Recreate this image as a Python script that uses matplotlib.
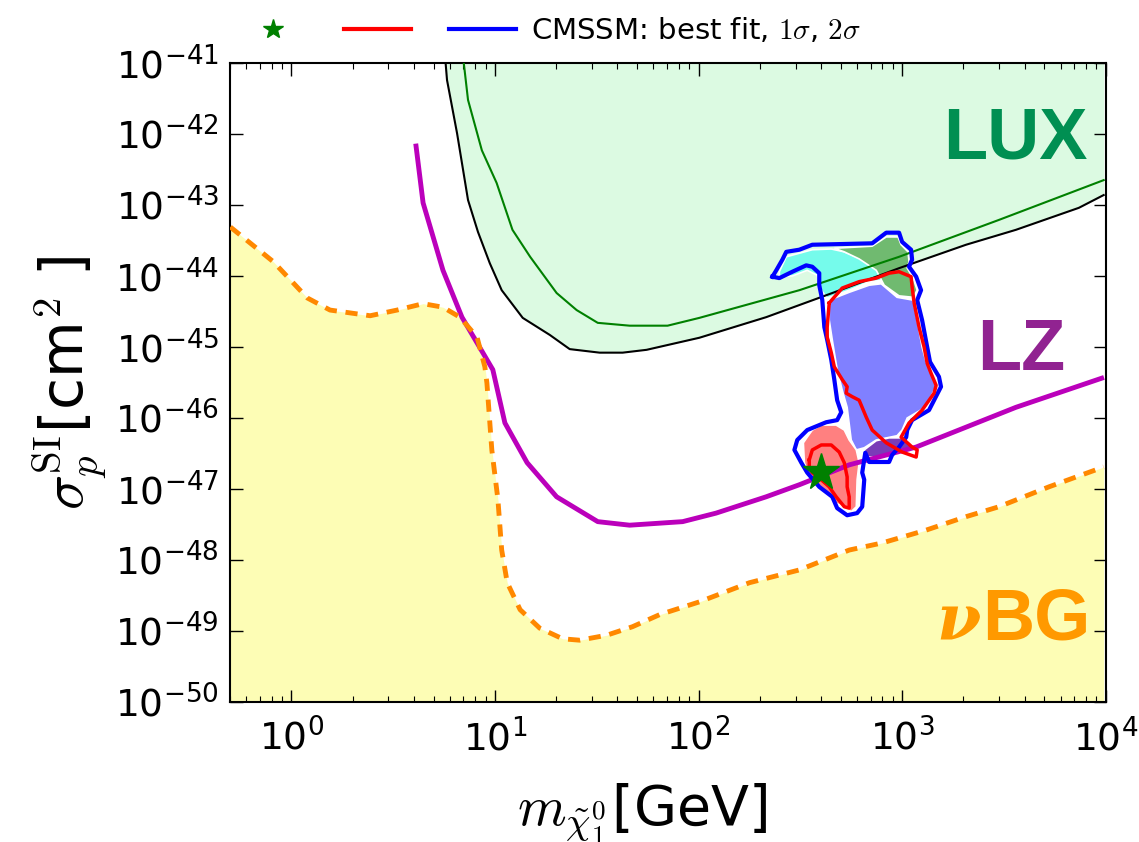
import numpy as np
import matplotlib
matplotlib.use("Agg")
import matplotlib.pyplot as plt
from matplotlib.lines import Line2D

plt.rcParams['mathtext.fontset'] = 'cm'
plt.rcParams['axes.unicode_minus'] = False

# LUX limit (mass in GeV, log10 sigma in cm^2)
lux_m = [5.69, 5.82, 6.52, 7.38, 8.26, 9.44, 10.8, 13.7, 18.6, 23.3, 32.7, 42.4, 55.6, 101, 215, 454, 966, 2060, 3620, 7380, 9770]
lux_logsig = [-40.9, -41.24, -41.99, -42.93, -43.38, -43.82, -44.20, -44.59, -44.83, -45.03, -45.08, -45.08, -45.04, -44.87, -44.58, -44.24, -43.89, -43.56, -43.35, -43.04, -42.86]

# older limit (thin green line)
lux_old_m = [6.97, 7.38, 8.63, 10.2, 12.2, 14.9, 20.1, 25.2, 32.0, 45.9, 70.5, 101, 313, 966, 2990, 9770]
lux_old_logsig = [-40.9, -41.52, -42.23, -42.69, -43.35, -43.73, -44.24, -44.48, -44.66, -44.70, -44.70, -44.59, -44.20, -43.73, -43.21, -42.65]

# LZ projection
lz_m = [4.10, 4.44, 5.56, 6.89, 9.77, 11.2, 14.4, 20.1, 32.0, 45.9, 83.6, 122, 215, 313, 550, 1170, 3620, 9550]
lz_logsig = [-42.17, -42.97, -43.92, -44.58, -45.32, -46.07, -46.63, -47.11, -47.46, -47.51, -47.46, -47.34, -47.11, -46.94, -46.66, -46.41, -45.85, -45.44]

# neutrino background
nbg_m = [0.502, 0.817, 1.20, 1.55, 2.44, 3.31, 4.44, 5.56, 6.73, 8.17, 8.93, 9.14, 9.66, 10.35, 10.8, 11.5, 13.3, 16.6, 21.5, 26.1, 35.4, 47.4, 64.4, 101, 178, 313, 550, 798, 1310, 2060, 2990, 5260, 9770]
nbg_logsig = [-43.31, -43.80, -44.31, -44.48, -44.56, -44.48, -44.39, -44.44, -44.58, -44.86, -45.28, -45.51, -46.45, -47.15, -47.86, -48.32, -48.70, -48.96, -49.11, -49.13, -49.06, -48.94, -48.77, -48.59, -48.32, -48.14, -47.86, -47.76, -47.58, -47.39, -47.25, -46.97, -46.69]

# CMSSM 2 sigma contour (log10 m, log10 sigma)
c2_logm = [2.363, 2.382, 2.412, 2.431, 2.495, 2.559, 2.853, 2.922, 2.985, 3.000, 3.044, 3.049, 3.034, 3.069, 3.093, 3.074, 3.098, 3.123, 3.137, 3.181, 3.191, 3.157, 3.132, 3.049, 3.025, 3.020, 2.985, 2.951, 2.936, 2.838, 2.819, 2.804, 2.814, 2.804, 2.779, 2.730, 2.681, 2.657, 2.593, 2.534, 2.505, 2.471, 2.485, 2.534, 2.627, 2.681, 2.701, 2.681, 2.667, 2.652, 2.632, 2.618, 2.608, 2.593, 2.593, 2.559, 2.529, 2.461, 2.397, 2.363]
c2_logsig = [-44.01, -43.92, -43.77, -43.66, -43.63, -43.56, -43.54, -43.39, -43.39, -43.52, -43.63, -43.77, -43.87, -44.01, -44.20, -44.34, -44.62, -45.00, -45.21, -45.42, -45.56, -45.75, -45.89, -46.03, -46.17, -46.27, -46.41, -46.52, -46.62, -46.62, -46.49, -46.77, -46.87, -47.25, -47.34, -47.37, -47.27, -47.11, -46.97, -46.77, -46.63, -46.45, -46.31, -46.17, -46.06, -46.03, -45.92, -45.75, -45.46, -45.18, -44.90, -44.72, -44.34, -44.13, -43.96, -43.87, -43.85, -43.94, -44.03, -44.01]

# CMSSM 1 sigma contours
c1a_logm = [2.642, 2.632, 2.632, 2.652, 2.667, 2.706, 2.730, 2.725, 2.755, 2.789, 2.824, 2.853, 2.922, 3.000, 3.069, 3.074, 3.049, 2.995, 3.034, 3.098, 3.157, 3.167, 3.142, 3.123, 3.108, 3.083, 3.059, 3.049, 3.044, 2.985, 2.936, 2.873, 2.789, 2.706, 2.642]
c1a_logsig = [-44.38, -44.72, -44.86, -45.08, -45.28, -45.46, -45.56, -45.65, -45.70, -45.75, -45.99, -46.17, -46.35, -46.48, -46.55, -46.45, -46.41, -46.27, -46.07, -45.89, -45.65, -45.54, -45.37, -45.23, -45.00, -44.72, -44.38, -44.15, -44.01, -43.94, -43.96, -44.03, -44.08, -44.17, -44.38]
c1b_logm = [2.544, 2.559, 2.603, 2.652, 2.691, 2.716, 2.730, 2.730, 2.740, 2.740, 2.716, 2.676, 2.642, 2.603, 2.559, 2.544, 2.544]
c1b_logsig = [-46.59, -46.45, -46.38, -46.38, -46.48, -46.63, -46.83, -46.97, -47.11, -47.27, -47.25, -47.11, -46.97, -46.87, -46.77, -46.69, -46.59]

# coloured regions inside the contours
cyan_logm = [2.397, 2.431, 2.559, 2.652, 2.716, 2.789, 2.873, 2.912, 2.838, 2.740, 2.632, 2.603, 2.583, 2.534, 2.461, 2.397]
cyan_logsig = [-43.94, -43.73, -43.63, -43.62, -43.66, -43.75, -43.89, -44.06, -44.08, -44.20, -44.31, -44.20, -43.99, -43.92, -44.00, -44.00]
green_logm = [2.667, 2.853, 2.922, 2.980, 2.995, 3.029, 3.034, 3.025, 3.054, 3.074, 3.054, 2.985, 2.912, 2.873, 2.789, 2.716]
green_logsig = [-43.61, -43.58, -43.45, -43.45, -43.56, -43.66, -43.80, -43.89, -44.03, -44.20, -44.30, -44.28, -44.13, -43.92, -43.76, -43.66]
blue_logm = [2.642, 2.740, 2.838, 2.897, 2.975, 3.054, 3.074, 3.098, 3.118, 3.157, 3.167, 3.132, 3.108, 3.025, 3.000, 2.975, 2.873, 2.814, 2.775, 2.750, 2.730, 2.706, 2.681, 2.657, 2.642]
blue_logsig = [-44.34, -44.23, -44.13, -44.11, -44.30, -44.34, -44.62, -45.00, -45.21, -45.42, -45.56, -45.75, -45.86, -46.00, -46.17, -46.25, -46.31, -46.42, -46.45, -46.31, -45.85, -45.61, -45.32, -44.90, -44.62]
purple_logm = [2.814, 2.873, 2.936, 3.020, 3.049, 2.971, 2.902, 2.824]
purple_logsig = [-46.45, -46.32, -46.28, -46.28, -46.41, -46.49, -46.55, -46.55]
pink_logm = [2.559, 2.603, 2.676, 2.716, 2.740, 2.775, 2.789, 2.779, 2.775, 2.750, 2.725, 2.676, 2.632, 2.593, 2.544, 2.520, 2.515, 2.534]
pink_logsig = [-46.17, -46.10, -46.10, -46.17, -46.31, -46.45, -46.63, -46.87, -47.25, -47.32, -47.27, -47.20, -47.06, -46.97, -46.83, -46.63, -46.35, -46.27]

best_m = 401
best_sig = 1.74e-47

fig = plt.figure(figsize=(11.39, 8.42), dpi=100)
ax = fig.add_axes([0.2019, 0.1663, 0.7689, 0.7589])

lux_m = np.array(lux_m)
lux_sig = 10.0 ** np.array(lux_logsig)
ax.fill_between(lux_m, lux_sig, 1e-40, color='#dcfae2', lw=0, zorder=1)
ax.plot(lux_m, lux_sig, color='black', lw=1.5, zorder=3)
ax.plot(lux_old_m, 10.0 ** np.array(lux_old_logsig), color='green', lw=1.5, zorder=3)

nbg_sig = 10.0 ** np.array(nbg_logsig)
ax.fill_between(nbg_m, 1e-51, nbg_sig, color='#fdfdb5', lw=0, zorder=1)

def region(lm, ls, col):
    ax.fill(10.0 ** np.array(lm), 10.0 ** np.array(ls), facecolor=col, edgecolor='white', lw=1.2, zorder=2)

region(cyan_logm, cyan_logsig, '#75fbeb')
region(green_logm, green_logsig, '#70ba70')
region(blue_logm, blue_logsig, '#8080ff')
region(pink_logm, pink_logsig, '#ff8080')
region(purple_logm, purple_logsig, '#7a3cb8')

ax.plot(lz_m, 10.0 ** np.array(lz_logsig), color='#bb00bb', lw=3.5, zorder=3)
ax.plot(nbg_m, nbg_sig, color='#ff8800', lw=3.5, dashes=(2.5, 1.8), zorder=3)

ax.plot(10.0 ** np.array(c2_logm), 10.0 ** np.array(c2_logsig), color='blue', lw=3, zorder=4)
ax.plot(10.0 ** np.array(c1a_logm), 10.0 ** np.array(c1a_logsig), color='red', lw=2.5, zorder=4)
ax.plot(10.0 ** np.array(c1b_logm), 10.0 ** np.array(c1b_logsig), color='red', lw=2.5, zorder=4)
ax.plot([best_m], [best_sig], marker='*', color='green', ms=28, mec='green', ls='none', zorder=5)

ax.set_xscale('log')
ax.set_yscale('log')
ax.set_xlim(0.5, 1e4)
ax.set_ylim(1e-50, 1e-41)
ax.set_yticks([10.0 ** k for k in range(-50, -40)])
ax.tick_params(which='both', direction='in', top=True, right=True, labelsize=27)
ax.tick_params(which='major', length=9, width=1)
ax.tick_params(which='minor', length=4, width=0.8)
ax.tick_params(axis='x', pad=12)
ax.tick_params(axis='y', pad=8)
for s in ax.spines.values():
    s.set_linewidth(1.5)

ax.set_xlabel(r'$m_{\tilde{\chi}^0_1}$[GeV]', fontsize=40)
ax.xaxis.set_label_coords(0.47, -0.125)
ax.set_ylabel(r'$\sigma_p^{\rm SI}$[cm$^2$ ]', fontsize=42, labelpad=4)

ax.text(0.979, 0.85, 'LUX', transform=ax.transAxes, ha='right', va='baseline',
        fontsize=52, fontweight='bold', family='Liberation Sans', color='#008f52', zorder=6)
ax.text(0.954, 0.52, 'LZ', transform=ax.transAxes, ha='right', va='baseline',
        fontsize=52, fontweight='bold', family='Liberation Sans', color='#912391', zorder=6)
ax.text(0.983, 0.098, 'BG', transform=ax.transAxes, ha='right', va='baseline',
        fontsize=52, fontweight='bold', family='Liberation Sans', color='#ff9900', zorder=6)
ax.text(0.857, 0.098, 'ν', transform=ax.transAxes, ha='right', va='baseline',
        fontsize=46, fontweight='bold', style='italic', family='DejaVu Serif', color='#ff9900', zorder=6)

handles = [Line2D([], [], marker='*', color='green', ms=15, ls='none'),
           Line2D([], [], color='red', lw=3),
           Line2D([], [], color='blue', lw=3)]
labels = ['', '', r'CMSSM: best fit, $1\sigma$, $2\sigma$']
fig.legend(handles, labels, loc='center', bbox_to_anchor=(0.483, 0.964), ncol=3, frameon=False,
           fontsize=21, handlelength=2.3, handletextpad=0.5, columnspacing=0.8)

fig.savefig('out.png', dpi=100)
